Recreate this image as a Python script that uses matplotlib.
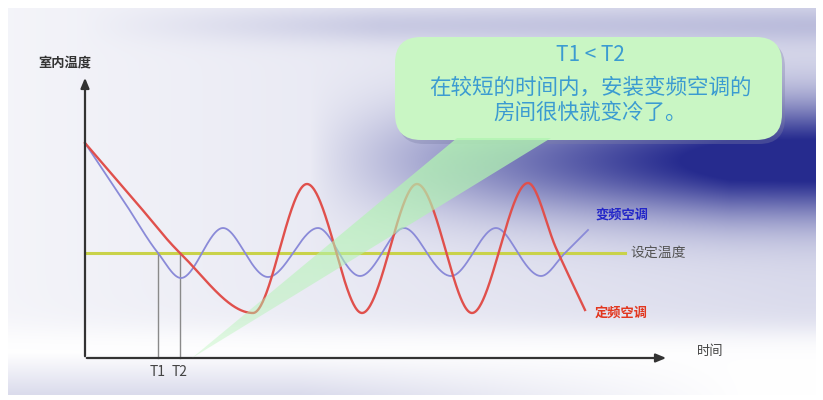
import numpy as np
import matplotlib
matplotlib.use("Agg")
import matplotlib.pyplot as plt
from matplotlib.patches import FancyBboxPatch, Polygon

plt.rcParams["font.family"] = ["Noto Sans CJK SC", "DejaVu Sans"]

# ---------------------------------------------------------------------------
# Data (time, indoor temperature) – arbitrary units, key points of each curve
# ---------------------------------------------------------------------------

SET_TEMP = 105

# inverter AC: fast drop, small oscillation around the set temperature
inv_t    = [0, 40, 73, 96, 117, 138, 160, 183, 208, 233, 254, 275, 297, 319, 342, 366, 388, 411, 433, 456, 480, 503]
inv_temp = [215, 155, 105, 80, 105, 130, 105, 81, 105, 130, 105, 82, 105, 130, 105, 82, 105, 130, 105, 82, 105, 128]

# fixed-speed AC: slower drop, large on/off swings
fix_t    = [0, 50, 95, 168, 195, 222, 250, 277, 305, 332, 360, 387, 415, 443, 471, 500]
fix_temp = [215, 157, 105, 45, 110, 174, 110, 45, 110, 174, 110, 45, 110, 175, 110, 48]

T1, T2 = 73, 95

# ---------------------------------------------------------------------------
# Helpers
# ---------------------------------------------------------------------------

def smooth(x, y, xs):
    """Cubic Hermite curve through the key points (for drawing only).

    Flat tangents at turning points, steeper tangents at points sitting
    halfway between two turning points so the swings look wave-like.
    """
    x = np.asarray(x, float)
    y = np.asarray(y, float)
    n = len(x)
    h = np.diff(x)
    d = np.diff(y) / h
    m = np.zeros(n)
    turn = np.zeros(n, bool)
    turn[1:-1] = d[:-1] * d[1:] < 0
    for k in range(1, n - 1):
        if d[k - 1] * d[k] > 0:
            w1 = 2 * h[k] + h[k - 1]
            w2 = h[k] + 2 * h[k - 1]
            m[k] = (w1 + w2) / (w1 / d[k - 1] + w2 / d[k])
            if turn[k - 1] and turn[k + 1]:
                m[k] *= 1.5
    m[0], m[-1] = d[0], d[-1]
    i = np.clip(np.searchsorted(x, xs) - 1, 0, n - 2)
    s = (xs - x[i]) / h[i]
    h00 = 2 * s**3 - 3 * s**2 + 1
    h10 = s**3 - 2 * s**2 + s
    h01 = -2 * s**3 + 3 * s**2
    h11 = s**3 - s**2
    return h00 * y[i] + h10 * h[i] * m[i] + h01 * y[i + 1] + h11 * h[i] * m[i + 1]


def background(w=823, h=400):
    """White-to-navy slide background."""
    px, py = np.meshgrid(np.arange(w), np.arange(h))
    white = np.array([1.0, 1.0, 1.0])
    navy = np.array([0.15, 0.17, 0.56])
    band = np.clip((px - 310) / 420.0, 0, 1) ** 0.9 * np.exp(-((py - 160) / 56.0) ** 2)
    dark = 0.95 * band
    # faint lavender wash over the panel, fading out near the bottom
    panel = 1 / (1 + np.exp((py - 330) / 8.0))
    dark += (0.05 + 0.12 * np.clip(px / 800, 0, 1)) * panel
    dark += 0.14 * np.exp(-((py - 25) / 18.0) ** 2) * np.clip((px - 80) / 300, 0, 1)
    dark += 0.17 * np.clip((py - 352) / 42.0, 0, 1) * np.clip(1 - (px - 300) / 450, 0, 1)
    dark = np.clip(dark, 0, 1)
    img = white * (1 - dark[..., None]) + navy * dark[..., None]
    img[(py < 8) | (py > 394) | (px > 815) | (px < 8)] = 1.0
    return img


# ---------------------------------------------------------------------------
# Figure
# ---------------------------------------------------------------------------

fig = plt.figure(figsize=(8.23, 4.00), dpi=100)
ax = fig.add_axes([0, 0, 1, 1])
ax.set_xlim(-85, 738)
ax.set_ylim(-42, 358)
ax.axis("off")

ax.imshow(background(), extent=(-85, 738, -42, 358), origin="upper",
          aspect="auto", zorder=0, interpolation="bilinear")

# set temperature
ax.plot([0, 540], [SET_TEMP, SET_TEMP], color="#c9d24a", lw=2.2, zorder=3)

# T1 / T2 markers
for t in (T1, T2):
    ax.plot([t, t], [0, SET_TEMP], color="#8a8a8a", lw=1.0, zorder=3)

ti = np.linspace(inv_t[0], inv_t[-1], 800)
ax.plot(ti, smooth(inv_t, inv_temp, ti), color="#8a8ad8", lw=1.3, zorder=4)
tf = np.linspace(fix_t[0], fix_t[-1], 800)
ax.plot(tf, smooth(fix_t, fix_temp, tf), color="#e0504c", lw=1.7, zorder=5)

# axes with arrows
arrow = dict(arrowstyle="-|>,head_length=0.6,head_width=0.25", color="#333333", lw=1.6)
ax.annotate("", xy=(0, 283), xytext=(0, -1), arrowprops=arrow, zorder=6)
ax.annotate("", xy=(584, 0), xytext=(-1, 0), arrowprops=arrow, zorder=6)

# callout bubble with a tail that fades towards its tip
ax.add_patch(FancyBboxPatch((313, 214), 387, 103,
                            boxstyle="round,pad=0,rounding_size=26",
                            fc="#7d80a8", ec="none", alpha=0.35, zorder=6))
ax.add_patch(FancyBboxPatch((310, 218), 387, 103,
                            boxstyle="round,pad=0,rounding_size=26",
                            fc="#c9f6c4", ec="none", zorder=7))
tail = Polygon([(372, 220), (466, 220), (107, 0)], closed=True, fc="none", ec="none")
ax.add_patch(tail)
fade = np.zeros((100, 2, 4))
fade[..., :3] = [0.70, 0.96, 0.70]
fade[..., 3] = np.linspace(0.8, 0.35, 100)[:, None]
grad = ax.imshow(fade, extent=(100, 470, 0, 222), origin="upper",
                 aspect="auto", zorder=7, interpolation="bilinear")
grad.set_clip_path(tail)

txt = "#3b9bd1"
ax.text(505, 303, "T1 < T2", color=txt, fontsize=15, ha="center", va="center", zorder=8)
ax.text(505, 270, "在较短的时间内，安装变频空调的", color=txt, fontsize=15.5,
        ha="center", va="center", zorder=8)
ax.text(505, 245, "房间很快就变冷了。", color=txt, fontsize=15.5,
        ha="center", va="center", zorder=8)

# labels
ax.text(-20, 295, "室内温度", fontsize=9.5, color="#333333", ha="center", va="center",
        fontweight="bold", zorder=8)
ax.text(625, 6, "时间", fontsize=9.5, color="#444444", ha="center", va="center", zorder=8)
ax.text(545, SET_TEMP, "设定温度", fontsize=10, color="#555555", ha="left", va="center", zorder=8)
ax.text(510, 143, "变频空调", fontsize=9.5, color="#2326c8", ha="left", va="center",
        fontweight="bold", zorder=8)
ax.text(510, 45, "定频空调", fontsize=9.5, color="#e2371f", ha="left", va="center",
        fontweight="bold", zorder=8)
ax.text(T1, -14, "T1", fontsize=10, color="#444444", ha="center", va="center", zorder=8)
ax.text(T2, -14, "T2", fontsize=10, color="#444444", ha="center", va="center", zorder=8)

fig.savefig("out.png", dpi=100)
